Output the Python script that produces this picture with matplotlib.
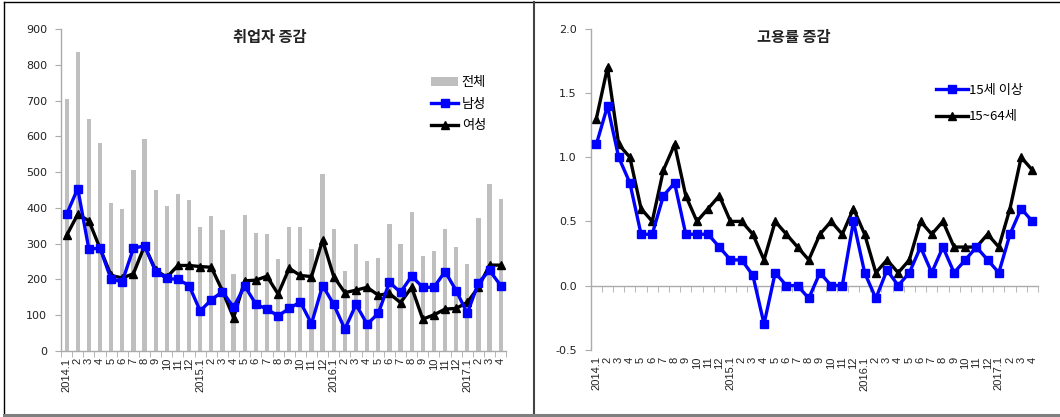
import numpy as np
import matplotlib.pyplot as plt
from matplotlib.lines import Line2D

plt.rcParams['font.family'] = ['Noto Sans CJK KR', 'DejaVu Sans']

# 월별 라벨 (2014.1 ~ 2017.4)
years = [2014, 2015, 2016, 2017]
months_in_year = [12, 12, 12, 4]
month_labels = []
for yr, n in zip(years, months_in_year):
    for m in range(1, n + 1):
        month_labels.append(f'{yr}.{m}' if m == 1 else str(m))

# 취업자 증감 (천명)
total = [705, 835, 649, 580, 414, 398, 506, 593, 451, 405, 439, 422,
         347, 376, 338, 216, 379, 330, 326, 257, 347, 347, 286, 496,
         340, 223, 299, 252, 261, 355, 299, 389, 266, 279, 340, 290,
         244, 372, 468, 425]
male = [382, 454, 284, 288, 200, 194, 287, 294, 222, 203, 200, 183,
        112, 143, 166, 122, 182, 131, 117, 98, 119, 137, 76, 183,
        130, 61, 130, 75, 105, 192, 164, 209, 178, 178, 222, 169,
        105, 191, 225, 183]
female = [323, 382, 364, 287, 211, 204, 216, 294, 226, 206, 239, 239,
          236, 234, 168, 93, 196, 198, 209, 159, 231, 211, 208, 310,
          208, 163, 170, 178, 156, 161, 135, 178, 89, 101, 117, 119,
          136, 178, 240, 240]

# 고용률 증감 (%p)
rate_15 = [1.1, 1.4, 1.0, 0.8, 0.4, 0.4, 0.7, 0.8, 0.4, 0.4, 0.4, 0.3,
           0.2, 0.2, 0.08, -0.3, 0.1, 0.0, 0.0, -0.1, 0.1, 0.0, 0.0, 0.5,
           0.1, -0.1, 0.12, 0.0, 0.1, 0.3, 0.1, 0.3, 0.1, 0.2, 0.3, 0.2,
           0.1, 0.4, 0.6, 0.5]
rate_15_64 = [1.3, 1.7, 1.1, 1.0, 0.6, 0.5, 0.9, 1.1, 0.7, 0.5, 0.6, 0.7,
              0.5, 0.5, 0.4, 0.2, 0.5, 0.4, 0.3, 0.2, 0.4, 0.5, 0.4, 0.6,
              0.4, 0.1, 0.2, 0.1, 0.2, 0.5, 0.4, 0.5, 0.3, 0.3, 0.3, 0.4,
              0.3, 0.6, 1.0, 0.9]

x = np.arange(len(month_labels))
axis_gray = '#ABABAB'
text_col = '#222222'
blue = '#0000FF'

fig = plt.figure(figsize=(10.6, 4.17), dpi=100)
ax1 = fig.add_axes([0.0576, 0.1583, 0.4200, 0.7722])
ax2 = fig.add_axes([0.5573, 0.1614, 0.4219, 0.7691])


def style_axes(ax):
    for s in ['top', 'right']:
        ax.spines[s].set_visible(False)
    for s in ['left', 'bottom']:
        ax.spines[s].set_color(axis_gray)
        ax.spines[s].set_linewidth(1.0)
    ax.set_xlim(-0.5, len(x) - 0.5)
    ax.set_xticks(x)
    ax.set_xticks(np.arange(len(x) + 1) - 0.5, minor=True)
    ax.tick_params(axis='x', which='major', length=0)
    ax.tick_params(axis='x', which='minor', length=4, color=axis_gray,
                   direction='out')
    ax.tick_params(axis='y', length=4, color=axis_gray, direction='out',
                   labelsize=8, labelcolor=text_col, pad=6)
    for t in ax.get_yticklabels():
        t.set_family('DejaVu Sans')


# 왼쪽: 취업자 증감
bars = ax1.bar(x, total, width=0.38, color='#BFBFBF', label='전체', zorder=1)
l_male, = ax1.plot(x, male, color=blue, lw=2.4, marker='s', ms=6,
                   label='남성', zorder=3)
l_female, = ax1.plot(x, female, color='black', lw=2.4, marker='^', ms=6,
                     label='여성', zorder=2)
ax1.set_ylim(0, 900)
ax1.set_yticks(np.arange(0, 901, 100))
style_axes(ax1)
ax1.set_xticklabels(month_labels, rotation=90, fontsize=8, color=text_col,
                    family='Liberation Sans')
ax1.tick_params(axis='x', which='major', pad=5)
ax1.text(0.468, 0.975, '취업자 증감', transform=ax1.transAxes, ha='center',
         va='center', fontsize=11, fontweight='bold', color=text_col)
ax1.legend([bars, l_male, l_female], ['전체', '남성', '여성'],
           loc='upper left', bbox_to_anchor=(0.82, 0.87), frameon=False,
           fontsize=9.5, handlelength=2.0, handletextpad=0.3,
           labelspacing=0.65, borderaxespad=0)

# 오른쪽: 고용률 증감
ax2.plot(x, rate_15, color=blue, lw=2.4, marker='s', ms=6, label='15세 이상', zorder=3)
ax2.plot(x, rate_15_64, color='black', lw=2.4, marker='^', ms=6, label='15~64세', zorder=2)
ax2.set_ylim(-0.5, 2.0)
ax2.set_yticks(np.arange(-0.5, 2.01, 0.5))
ax2.set_yticklabels([f'{v:.1f}' for v in np.arange(-0.5, 2.01, 0.5)])
ax2.spines['bottom'].set_position(('data', 0))
style_axes(ax2)
ax2.set_xticklabels(month_labels, rotation=90, fontsize=8, color=text_col,
                    family='Liberation Sans')
ax2.tick_params(axis='x', which='major', pad=51)
ax2.text(0.455, 0.975, '고용률 증감', transform=ax2.transAxes, ha='center',
         va='center', fontsize=11, fontweight='bold', color=text_col)
ax2.legend(loc='upper left', bbox_to_anchor=(0.76, 0.845), frameon=False,
           fontsize=9.5, handlelength=2.4, handletextpad=0.1,
           labelspacing=1.0, borderaxespad=0)

# 패널 테두리
W, H = 1060, 417
fig.add_artist(Line2D([4 / W, 1], [1 - 2 / H, 1 - 2 / H], color='black', lw=1))
fig.add_artist(Line2D([4 / W, 4 / W], [1 - 2 / H, 1 - 414 / H], color='black', lw=1))
fig.add_artist(Line2D([534 / W, 534 / W], [1 - 2 / H, 1 - 414 / H], color='#444444', lw=1.5))
fig.add_artist(Line2D([4 / W, 1], [1 - 414.5 / H, 1 - 414.5 / H], color='#7F7F7F', lw=2.2))

fig.savefig('out.png', dpi=100)
